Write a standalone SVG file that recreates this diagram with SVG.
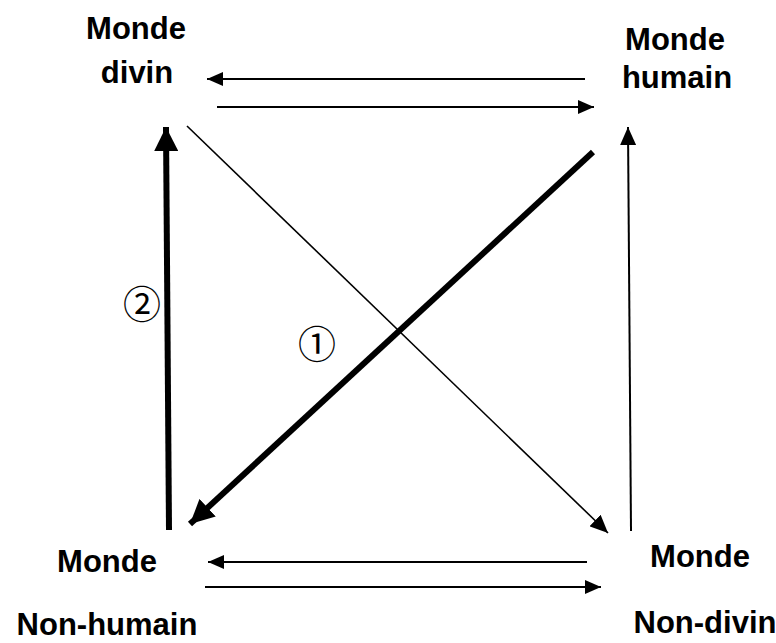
<svg xmlns="http://www.w3.org/2000/svg" width="776" height="643" viewBox="0 0 776 643">
<style>
.lbl{font-family:"Liberation Sans",Arial,sans-serif;font-weight:bold;font-size:31px;fill:#000;text-anchor:middle}
.num{font-family:"Noto Sans CJK JP","DejaVu Sans",sans-serif;font-size:38px;fill:#000;text-anchor:middle}
.thin{stroke:#000;stroke-width:2;fill:none}
.hair{stroke:#000;stroke-width:1.6;fill:none}
.thick{stroke:#000;stroke-width:6;fill:none}
</style>
<defs>
<marker id="ah" markerUnits="userSpaceOnUse" markerWidth="16" markerHeight="14" refX="16" refY="7" orient="auto">
<path d="M0,0 L16,7 L0,14 z" fill="#000"/>
</marker>
<marker id="ah2" markerUnits="userSpaceOnUse" markerWidth="18" markerHeight="16" refX="18" refY="8" orient="auto">
<path d="M0,0 L18,8 L0,16 z" fill="#000"/>
</marker>
<marker id="ahb" markerUnits="userSpaceOnUse" markerWidth="24" markerHeight="24" refX="24" refY="12" orient="auto">
<path d="M0,0 L24,12 L0,24 z" fill="#000"/>
</marker>
</defs>
<g id="connectors">
<line class="thin" x1="585" y1="79" x2="207" y2="79" marker-end="url(#ah)"/>
<line class="thin" x1="217" y1="107" x2="594" y2="107" marker-end="url(#ah)"/>
<line class="thin" x1="587" y1="562" x2="208" y2="562" marker-end="url(#ah)"/>
<line class="thin" x1="205" y1="587" x2="601" y2="587" marker-end="url(#ah)"/>
<line class="thin" x1="631" y1="531" x2="628" y2="127" marker-end="url(#ah2)"/>
<line class="hair" x1="187" y1="126" x2="608" y2="533" marker-end="url(#ah2)"/>
<line class="thick" x1="169" y1="530" x2="166" y2="127" marker-end="url(#ahb)"/>
<line class="thick" x1="593" y1="152" x2="190" y2="524" marker-end="url(#ahb)"/>
</g>
<g id="monde-divin">
<text class="lbl" x="136" y="39">Monde</text>
<text class="lbl" x="137" y="83">divin</text>
</g>
<g id="monde-humain">
<text class="lbl" x="675" y="50">Monde</text>
<text class="lbl" x="677" y="88">humain</text>
</g>
<g id="monde-non-humain">
<text class="lbl" x="107" y="572">Monde</text>
<text class="lbl" x="107" y="635">Non-humain</text>
</g>
<g id="monde-non-divin">
<text class="lbl" x="700" y="567">Monde</text>
<text class="lbl" x="705" y="633">Non-divin</text>
</g>
<g id="label-1"><text class="num" x="317" y="358">①</text></g>
<g id="label-2"><text class="num" x="142" y="318">②</text></g>
</svg>
